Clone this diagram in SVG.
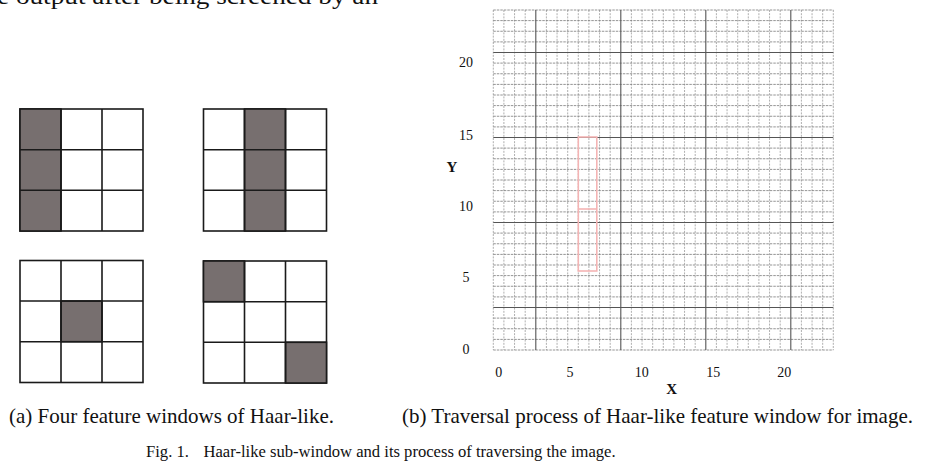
<svg xmlns="http://www.w3.org/2000/svg" width="926" height="465" viewBox="0 0 926 465">
  <style>
    .txt { font-family: "Liberation Serif", "Times New Roman", serif; fill: #111; }
    .cap { font-size: 21px; }
    .fig { font-size: 16.6px; }
    .tick { font-size: 14px; text-anchor: middle; }
    .axis { font-size: 15px; font-weight: bold; text-anchor: middle; }
    .cell { fill: #fff; stroke: #1a1a1a; stroke-width: 1.6; }
    .dark { fill: #776f6f; stroke: #1a1a1a; stroke-width: 1.6; }
    .minor-v { fill: none; stroke: #9a9a9a; stroke-width: 0.8; stroke-dasharray: 2 1.2; }
    .minor-h { fill: none; stroke: #7a7a7a; stroke-width: 0.8; stroke-dasharray: 2.5 1; }
    .major { fill: none; stroke: #555; stroke-width: 1.1; }
    .win { fill: none; stroke: #f4b4b4; stroke-width: 1.6; }
  </style>

  <!-- running text cut off at the page top -->
  <text class="txt" x="-3" y="4" font-size="24" textLength="381" lengthAdjust="spacingAndGlyphs">e output after being screened by an</text>

  <!-- 3x3 feature window, left column dark -->
  <g id="window-a1">
    <rect class="cell" x="20" y="109" width="123" height="122"/>
    <rect class="dark" x="20" y="109" width="41" height="122"/>
    <path class="cell" fill="none" d="M61 109V231M102 109V231M20 149.7H143M20 190.3H143"/>
  </g>

  <!-- 3x3 feature window, middle column dark -->
  <g id="window-a2">
    <rect class="cell" x="203.5" y="109" width="123" height="122"/>
    <rect class="dark" x="244.5" y="109" width="41" height="122"/>
    <path class="cell" fill="none" d="M244.5 109V231M285.5 109V231M203.5 149.7H326.5M203.5 190.3H326.5"/>
  </g>

  <!-- 3x3 feature window, centre cell dark -->
  <g id="window-a3">
    <rect class="cell" x="20" y="260.5" width="123" height="122"/>
    <rect class="dark" x="61" y="301" width="41" height="40.7"/>
    <path class="cell" fill="none" d="M61 260.5V382.5M102 260.5V382.5M20 301H143M20 341.7H143"/>
  </g>

  <!-- 3x3 feature window, diagonal corners dark -->
  <g id="window-a4">
    <rect class="cell" x="203.5" y="261" width="123" height="122"/>
    <rect class="dark" x="203.5" y="261" width="41" height="40.7"/>
    <rect class="dark" x="285.5" y="342.3" width="41" height="40.7"/>
    <path class="cell" fill="none" d="M244.5 261V383M285.5 261V383M203.5 301.7H326.5M203.5 342.3H326.5"/>
  </g>

  <!-- image grid for the traversal -->
  <g id="image-grid">
    <path class="minor-v" d="M493.3 10V350M503.9 10V350M514.55 10V350M525.2 10V350M546.4 10V350M557.05 10V350M567.7 10V350M578.3 10V350M588.9 10V350M599.55 10V350M610.2 10V350M631.4 10V350M642.05 10V350M652.7 10V350M663.3 10V350M673.9 10V350M684.55 10V350M695.2 10V350M716.4 10V350M727.05 10V350M737.7 10V350M748.3 10V350M758.9 10V350M769.55 10V350M780.2 10V350M801.4 10V350M812.05 10V350M822.7 10V350M833.3 10V350"/>
    <path class="minor-h" d="M493.3 10H833.3M493.3 20.6H833.3M493.3 31.25H833.3M493.3 41.9H833.3M493.3 63.1H833.3M493.3 73.75H833.3M493.3 84.4H833.3M493.3 95H833.3M493.3 105.6H833.3M493.3 116.25H833.3M493.3 126.9H833.3M493.3 148.1H833.3M493.3 158.75H833.3M493.3 169.4H833.3M493.3 180H833.3M493.3 190.6H833.3M493.3 201.25H833.3M493.3 211.9H833.3M493.3 233.1H833.3M493.3 243.75H833.3M493.3 254.4H833.3M493.3 265H833.3M493.3 275.6H833.3M493.3 286.25H833.3M493.3 296.9H833.3M493.3 318.1H833.3M493.3 328.75H833.3M493.3 339.4H833.3M493.3 350H833.3"/>
    <path class="major" d="M535.8 10V350M620.8 10V350M705.8 10V350M790.8 10V350M493.3 52.5H833.3M493.3 137.5H833.3M493.3 222.5H833.3M493.3 307.5H833.3"/>
  </g>

  <!-- sliding feature window -->
  <g id="feature-window">
    <rect class="win" x="578.3" y="137" width="18.5" height="134"/>
    <path class="win" d="M578.3 209H596.8"/>
  </g>

  <!-- axis ticks and titles -->
  <g id="y-axis">
    <text class="txt tick" x="466" y="67">20</text>
    <text class="txt tick" x="466" y="139.5">15</text>
    <text class="txt tick" x="466" y="210.5">10</text>
    <text class="txt tick" x="466" y="282">5</text>
    <text class="txt tick" x="466" y="354">0</text>
    <text class="txt axis" x="452" y="171.7">Y</text>
  </g>
  <g id="x-axis">
    <text class="txt tick" x="498.7" y="376.5">0</text>
    <text class="txt tick" x="570" y="376.5">5</text>
    <text class="txt tick" x="641.7" y="376.5">10</text>
    <text class="txt tick" x="713.3" y="376.5">15</text>
    <text class="txt tick" x="784.3" y="376.5">20</text>
    <text class="txt axis" x="671.7" y="394">X</text>
  </g>

  <!-- captions -->
  <text class="txt cap" x="9" y="423.3">(a) Four feature windows of Haar-like.</text>
  <text class="txt cap" x="402" y="423.3">(b) Traversal process of Haar-like feature window for image.</text>
  <text class="txt fig" x="146" y="457">Fig. 1.</text>
  <text class="txt fig" x="203.5" y="457">Haar-like sub-window and its process of traversing the image.</text>
</svg>
